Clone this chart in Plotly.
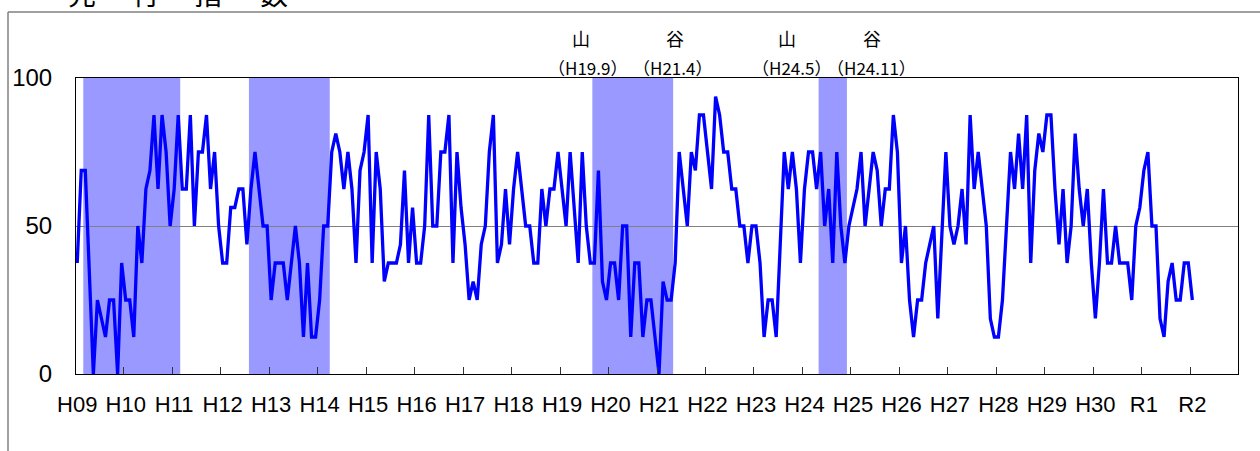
import plotly.graph_objects as go

# Monthly leading diffusion index, H09.1 .. R2.1
values = [
    37.5, 68.75, 68.75, 37.5, 0, 25, 18.75, 12.5, 25, 25, 0, 37.5,
    25, 25, 12.5, 50, 37.5, 62.5, 68.75, 87.5, 62.5, 87.5, 75, 50,
    62.5, 87.5, 62.5, 62.5, 87.5, 50, 75, 75, 87.5, 62.5, 75, 50,
    37.5, 37.5, 56.25, 56.25, 62.5, 62.5, 43.75, 62.5, 75, 62.5, 50, 50,
    25, 37.5, 37.5, 37.5, 25, 37.5, 50, 37.5, 12.5, 37.5, 12.5, 12.5,
    25, 50, 50, 75, 81.25, 75, 62.5, 75, 62.5, 37.5, 68.75, 75,
    87.5, 37.5, 75, 62.5, 31.25, 37.5, 37.5, 37.5, 43.75, 68.75, 37.5, 56.25,
    37.5, 37.5, 50, 87.5, 50, 50, 75, 75, 87.5, 37.5, 75, 56.25,
    43.75, 25, 31.25, 25, 43.75, 50, 75, 87.5, 37.5, 43.75, 62.5, 43.75,
    62.5, 75, 62.5, 50, 50, 37.5, 37.5, 62.5, 50, 62.5, 62.5, 75,
    62.5, 50, 75, 56.25, 37.5, 75, 50, 37.5, 37.5, 68.75, 31.25, 25,
    37.5, 37.5, 25, 50, 50, 12.5, 37.5, 37.5, 12.5, 25, 25, 12.5,
    0, 31.25, 25, 25, 37.5, 75, 62.5, 50, 75, 68.75, 87.5, 87.5,
    75, 62.5, 93.75, 87.5, 75, 75, 62.5, 62.5, 50, 50, 37.5, 50,
    50, 37.5, 12.5, 25, 25, 12.5, 43.75, 75, 62.5, 75, 62.5, 37.5,
    62.5, 75, 75, 62.5, 75, 50, 62.5, 37.5, 75, 50, 37.5, 50,
    56.25, 62.5, 75, 50, 62.5, 75, 68.75, 50, 62.5, 62.5, 87.5, 75,
    37.5, 50, 25, 12.5, 25, 25, 37.5, 43.75, 50, 18.75, 50, 75,
    50, 43.75, 50, 62.5, 43.75, 87.5, 62.5, 75, 62.5, 50, 18.75, 12.5,
    12.5, 25, 50, 75, 62.5, 81.25, 62.5, 87.5, 37.5, 68.75, 81.25, 75,
    87.5, 87.5, 62.5, 43.75, 62.5, 37.5, 50, 81.25, 62.5, 50, 62.5, 37.5,
    18.75, 37.5, 62.5, 37.5, 37.5, 50, 37.5, 37.5, 37.5, 25, 50, 56.25,
    68.75, 75, 50, 50, 18.75, 12.5, 31.25, 37.5, 25, 25, 37.5, 37.5,
    25,
]

year_labels = ["H09", "H10", "H11", "H12", "H13", "H14", "H15", "H16", "H17",
               "H18", "H19", "H20", "H21", "H22", "H23", "H24", "H25", "H26",
               "H27", "H28", "H29", "H30", "R1", "R2"]

# (peak, trough) of shaded periods
recessions = [("H09.3", "H11.2"), ("H12.8", "H14.3"),
              ("H19.9", "H21.4"), ("H24.5", "H24.11")]

labeled_turns = [("山", "（H19.9）"), ("谷", "（H21.4）"),
                 ("山", "（H24.5）"), ("谷", "（H24.11）")]


def month_index(lbl):
    y, m = lbl[1:].split(".")
    return (int(y) - 9) * 12 + int(m) - 1


W, H = 1260, 451
L, R, T, B = 76, 1238, 78, 374
XMIN, XMAX = -0.3, 287.3


def px_x(px):
    return (px - L) / (R - L)


def px_y(py):
    return (B - py) / (B - T)


def px_to_m(px):
    return XMIN + (px - L) / (R - L) * (XMAX - XMIN)


x = list(range(len(values)))

fig = go.Figure()
fig.add_trace(go.Scatter(x=x, y=values, mode="lines",
                         line=dict(color="#0000FF", width=3.3),
                         showlegend=False, hoverinfo="skip"))

for pk, tr in recessions:
    fig.add_vrect(x0=month_index(pk) - 0.5, x1=month_index(tr) + 0.5,
                  fillcolor="#9999FF", opacity=1, line_width=0, layer="below")

tick_vals = [12 * i for i in range(len(year_labels))]

fig.update_layout(
    width=W, height=H,
    margin=dict(l=L, r=W - R, t=T, b=H - B),
    paper_bgcolor="white", plot_bgcolor="white",
    font=dict(family="Liberation Sans Narrow, Arial Narrow, sans-serif", color="black"),
    xaxis=dict(range=[XMIN, XMAX], tickmode="array", tickvals=tick_vals,
               ticktext=year_labels, ticks="", showgrid=False, zeroline=False,
               showline=True, linecolor="black", linewidth=1, mirror=True,
               tickfont=dict(size=22), ticklabelstandoff=11,
               minor=dict(tickmode="array",
                          tickvals=[11.5 + 12 * i for i in range(23)],
                          ticks="inside", ticklen=7, tickcolor="#333333",
                          tickwidth=1, showgrid=False)),
    yaxis=dict(range=[0, 100], tickmode="array", tickvals=[0, 50, 100],
               ticktext=["0", "50", "100"], showgrid=True, gridcolor="#808080",
               gridwidth=1, zeroline=False, ticks="",
               showline=True, linecolor="black", linewidth=1, mirror=True,
               tickfont=dict(size=24), ticklabelstandoff=18),
)

annotations = []
# title characters (partially cut at top, as in the original)
for ch, cx in zip(["先", "行", "指", "数"], [82, 146, 208, 274]):
    annotations.append(dict(text=ch, xref="paper", yref="paper",
                            x=px_x(cx), y=px_y(-7), xanchor="center",
                            yanchor="middle", showarrow=False,
                            font=dict(family="Noto Sans CJK JP", size=28)))

turn_px = [(581, 587), (675, 672), (787, 791), (872, 871)]
for (sym, date), (sx, dx) in zip(labeled_turns, turn_px):
    annotations.append(dict(text=sym, xref="x", yref="paper",
                            x=px_to_m(sx), y=px_y(38), xanchor="center",
                            yanchor="middle", showarrow=False,
                            font=dict(family="Noto Sans CJK JP", size=18)))
    annotations.append(dict(text=date, xref="x", yref="paper",
                            x=px_to_m(dx), y=px_y(67), xanchor="center",
                            yanchor="middle", showarrow=False,
                            font=dict(family="Noto Sans CJK JP", size=17)))

fig.update_layout(annotations=annotations)

# outer chart frame
fig.add_shape(type="line", xref="paper", yref="paper",
              x0=px_x(8), y0=px_y(460), x1=px_x(8), y1=px_y(12),
              line=dict(color="#808080", width=1.5))
fig.add_shape(type="line", xref="paper", yref="paper",
              x0=px_x(8), y0=px_y(12), x1=px_x(1270), y1=px_y(12),
              line=dict(color="#808080", width=1.5))

fig.write_html("out.html", config={"displayModeBar": False},
               post_script="document.body.style.margin='0';document.body.style.overflow='hidden';")
